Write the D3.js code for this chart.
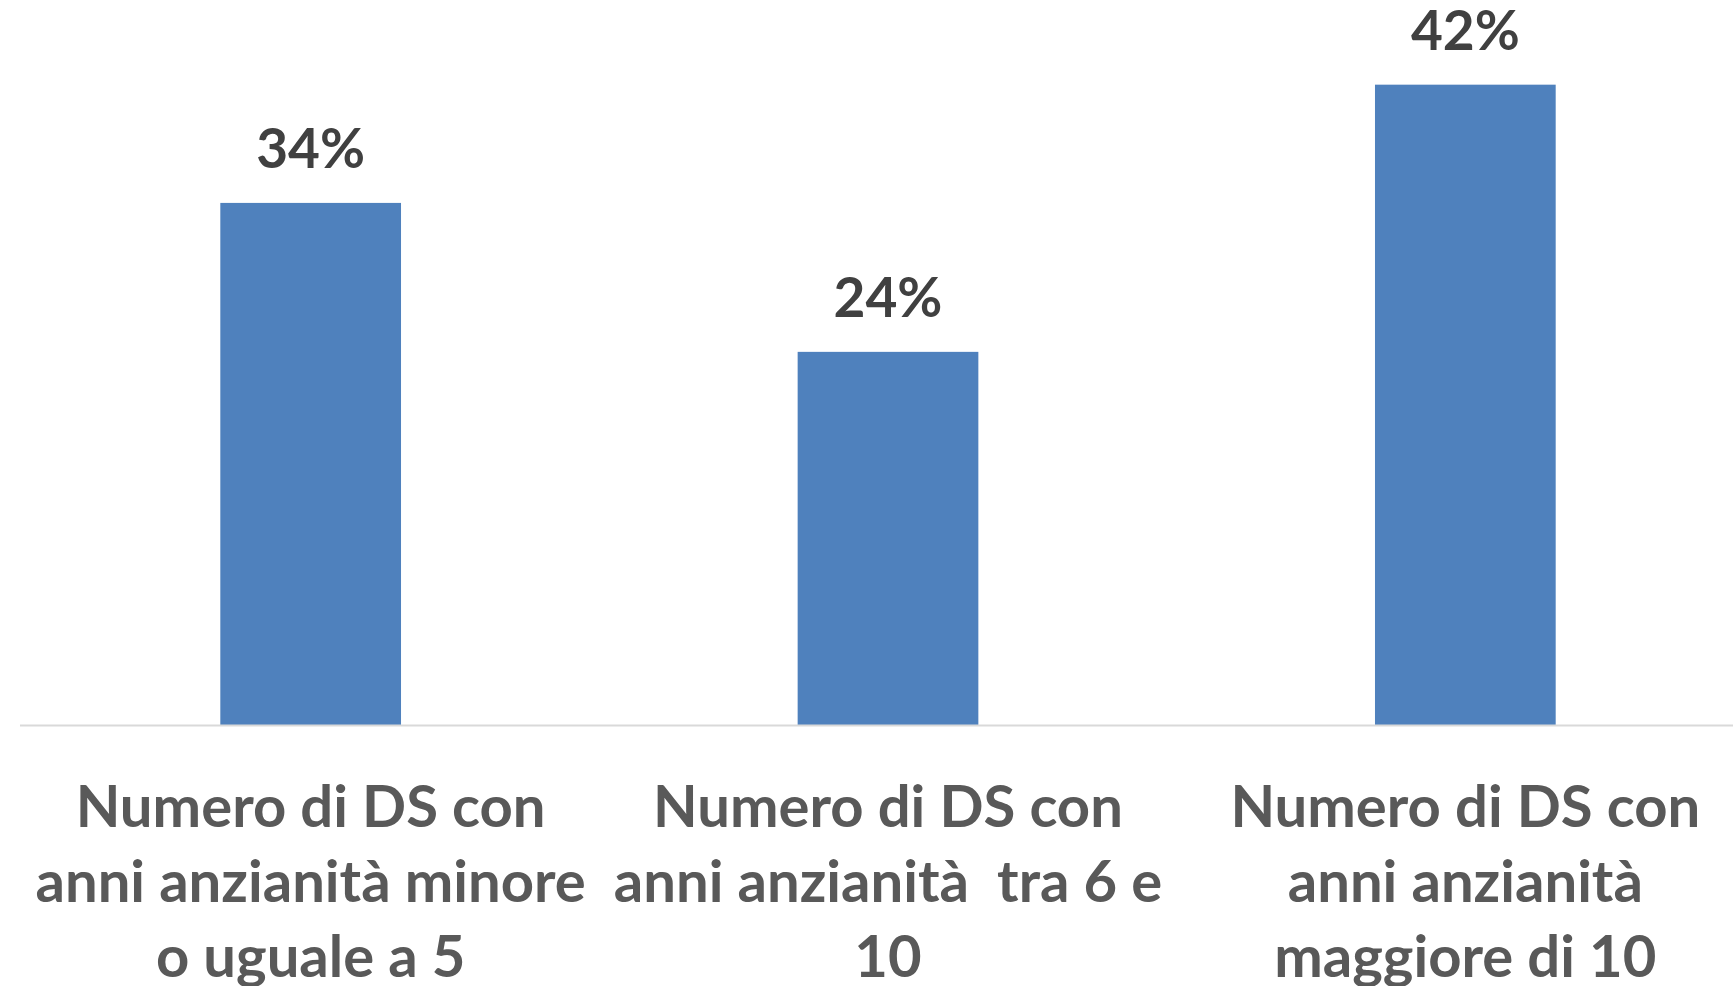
<!DOCTYPE html>
<html>
<head>
<meta charset="utf-8">
<script src="https://cdn.jsdelivr.net/npm/d3@7"></script>
<style>
    body { margin: 0; background: #fff; }
    svg { display: block; }
</style>
</head>
<body>
<div id="viz"></div>
<script>
// categories, split into the lines they are shown on
let categories = ["cat1", "cat2", "cat3"];
let categoryLines = [
    ["Numero di DS con", "anni anzianità minore", "o uguale a 5"],
    ["Numero di DS con", "anni anzianità  tra 6 e", "10"],
    ["Numero di DS con", "anni anzianità", "maggiore di 10"]
];
// bar heights; labels show them rounded
let values = [34.0, 24.3, 41.7];

let width = 1733;
let height = 986;
let baseline = 725;

let svg = d3.select("#viz")
    .append("svg")
    .attr("width", width)
    .attr("height", height);

let x = d3.scaleBand()
    .domain(categories)
    .range([22, 1754])
    .paddingInner(0.687)
    .paddingOuter(0.3435);

let y = d3.scaleLinear()
    .domain([0, 45])
    .range([baseline, 34]);

// bars
svg.selectAll(".bar")
    .data(values)
    .enter()
    .append("rect")
    .attr("class", "bar")
    .attr("x", (d, i) => x(categories[i]))
    .attr("y", d => y(d))
    .attr("width", x.bandwidth())
    .attr("height", d => baseline - y(d))
    .attr("fill", "#4f81bd");

// axis line
svg.append("line")
    .attr("x1", 20)
    .attr("x2", width)
    .attr("y1", baseline + 0.5)
    .attr("y2", baseline + 0.5)
    .attr("stroke", "#d9d9d9")
    .attr("stroke-width", 2);

// value labels
svg.selectAll(".val")
    .data(values)
    .enter()
    .append("text")
    .attr("class", "val")
    .attr("x", (d, i) => x(categories[i]) + x.bandwidth() / 2)
    .attr("y", d => y(d) - 35)
    .attr("text-anchor", "middle")
    .style("font-family", "Lato, 'Open Sans', sans-serif")
    .style("font-weight", "bold")
    .style("font-size", "55px")
    .style("fill", "#404040")
    .text(d => Math.round(d) + "%");

// category labels
let lab = svg.selectAll(".cat")
    .data(categoryLines)
    .enter()
    .append("text")
    .attr("class", "cat")
    .attr("text-anchor", "middle")
    .style("font-family", "Lato, 'Open Sans', sans-serif")
    .style("font-weight", "bold")
    .style("font-size", "58px")
    .style("fill", "#595959")
    .style("white-space", "pre");

lab.each(function (lines, i) {
    let cx = x(categories[i]) + x.bandwidth() / 2;
    d3.select(this).selectAll("tspan")
        .data(lines)
        .enter()
        .append("tspan")
        .attr("x", cx)
        .attr("y", (l, j) => 827 + j * 75)
        .text(l => l);
});
</script>
</body>
</html>
